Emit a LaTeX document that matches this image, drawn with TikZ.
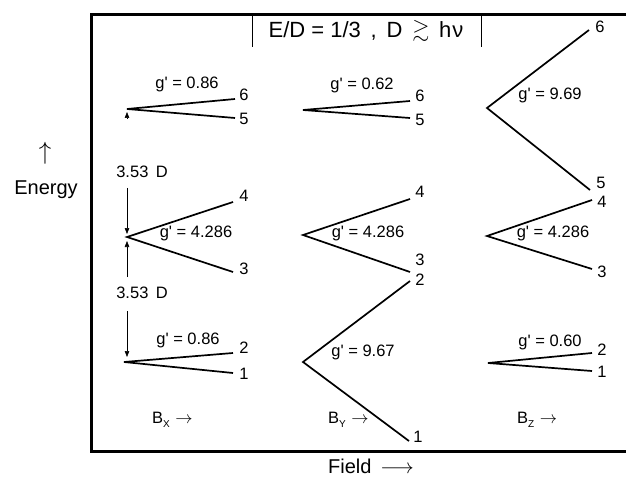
\documentclass[tikz,border=0pt]{standalone}
\usepackage{fontspec}
\usepackage{amssymb}
\setmainfont{Liberation Sans}[Ligatures=TeXOff]
\usetikzlibrary{arrows.meta}
\begin{document}
\begin{tikzpicture}[x=1pt,y=-1pt,
  lvl/.style={line width=1.7pt},
  lab/.style={font=\fontsize{16.5}{16.5}\selectfont, inner sep=0pt},
  num/.style={font=\fontsize{16.5}{16.5}\selectfont, inner sep=0pt},
  axislab/.style={font=\fontsize{20}{20}\selectfont, inner sep=0pt},
  dimarrow/.style={line width=0.6pt, -{Triangle[length=6pt,width=4.5pt]}},
  frameline/.style={line width=3pt, line join=miter},
  titlebar/.style={line width=0.8pt}]
\useasboundingbox (0,0) rectangle (626,481);
% frame
\coordinate (fTR) at (626,15); \coordinate (fTL) at (91,15);
\coordinate (fBL) at (91,451); \coordinate (fBR) at (626,451);
\draw[frameline] (fTR) -- (fTL) -- (fBL) -- (fBR);
% title
\coordinate (tb1a) at (252,15); \coordinate (tb1b) at (252,47);
\coordinate (tb2a) at (481,15); \coordinate (tb2b) at (481,47);
\draw[titlebar] (tb1a) -- (tb1b);
\draw[titlebar] (tb2a) -- (tb2b);
\node[font=\fontsize{22}{22}\selectfont, inner sep=0pt] (title) at (366,31) {E/D = 1/3 \,,\, D \,\raisebox{1pt}{$\gtrsim$}\, h\kern1pt ν};
% axes labels
\node[font=\fontsize{28}{28}\selectfont, inner sep=0pt] (earrow) at (45,153) {$\uparrow$};
\node[axislab] (energy) at (46,190) {Energy};
\node[axislab] (field) at (371,466) {Field \,$\longrightarrow$};
% ---------- column Bx ----------
\coordinate (a6v) at (127,109); \coordinate (a6) at (235,99); \coordinate (a5) at (235,118);
\draw[lvl] (a6) -- (a6v) -- (a5);
\node[num] (na6) at (244,95) {6};
\node[num] (na5) at (244,119) {5};
\node[lab] (ga3) at (187,84) {g' = 0.86};
\coordinate (a4v) at (127,237); \coordinate (a4) at (233,202); \coordinate (a3) at (233,272);
\draw[lvl] (a4) -- (a4v) -- (a3);
\node[num] (na4) at (244,196) {4};
\node[num] (na3) at (244,269) {3};
\node[lab] (ga2) at (196,233) {g' = 4.286};
\coordinate (a2v) at (124,362); \coordinate (a2) at (233,353); \coordinate (a1) at (233,373);
\draw[lvl] (a2) -- (a2v) -- (a1);
\node[num] (na2) at (244,348) {2};
\node[num] (na1) at (244,374) {1};
\node[lab] (ga1) at (188,340) {g' = 0.86};
% dimension arrows
\node[lab] (dU) at (142,172) {3.53\, D};
\node[lab] (dL) at (142,293) {3.53\, D};
\coordinate (d0s) at (127,118); \coordinate (d0e) at (127,112);
\draw[dimarrow] (d0s) -- (d0e);
\coordinate (d1s) at (127,188); \coordinate (d1e) at (127,234);
\draw[dimarrow] (d1s) -- (d1e);
\coordinate (d2s) at (127,277); \coordinate (d2e) at (127,241);
\draw[dimarrow] (d2s) -- (d2e);
\coordinate (d3s) at (127,311); \coordinate (d3e) at (127,357);
\draw[dimarrow] (d3s) -- (d3e);
\node[lab, anchor=west] (bx) at (152,420) {B\raisebox{-4pt}{\fontsize{10}{10}\selectfont X}\,\,$\rightarrow$};
% ---------- column By ----------
\coordinate (b6v) at (303,110); \coordinate (b6) at (410,101); \coordinate (b5) at (410,118);
\draw[lvl] (b6) -- (b6v) -- (b5);
\node[num] (nb6) at (420,96) {6};
\node[num] (nb5) at (420,120) {5};
\node[lab] (gb3) at (362,85) {g' = 0.62};
\coordinate (b4v) at (303,235); \coordinate (b4) at (410,199); \coordinate (b3) at (410,272);
\draw[lvl] (b4) -- (b4v) -- (b3);
\node[num] (nb4) at (420,192) {4};
\node[num] (nb3) at (420,260) {3};
\node[lab] (gb2) at (368,233) {g' = 4.286};
\coordinate (b2v) at (303,362); \coordinate (b2) at (410,281); \coordinate (b1) at (409,441);
\draw[lvl] (b2) -- (b2v) -- (b1);
\node[num] (nb2) at (420,280) {2};
\node[num] (nb1) at (418,437) {1};
\node[lab] (gb1) at (363,352) {g' = 9.67};
\node[lab, anchor=west] (by) at (328,420) {B\raisebox{-4pt}{\fontsize{10}{10}\selectfont Y}\,\,$\rightarrow$};
% ---------- column Bz ----------
\coordinate (c6v) at (487,108); \coordinate (c6) at (589,30); \coordinate (c5) at (590,190);
\draw[lvl] (c6) -- (c6v) -- (c5);
\node[num] (nc6) at (600,27) {6};
\node[num] (nc5) at (601,183) {5};
\node[lab] (gc3) at (550,95) {g' = 9.69};
\coordinate (c4v) at (487,236); \coordinate (c4) at (592,200); \coordinate (c3) at (592,269);
\draw[lvl] (c4) -- (c4v) -- (c3);
\node[num] (nc4) at (602,202) {4};
\node[num] (nc3) at (602,272) {3};
\node[lab] (gc2) at (553,233) {g' = 4.286};
\coordinate (c2v) at (488,363); \coordinate (c2) at (592,353); \coordinate (c1) at (592,371);
\draw[lvl] (c2) -- (c2v) -- (c1);
\node[num] (nc2) at (602,350) {2};
\node[num] (nc1) at (602,372) {1};
\node[lab] (gc1) at (550,342) {g' = 0.60};
\node[lab, anchor=west] (bz) at (517,420) {B\raisebox{-4pt}{\fontsize{10}{10}\selectfont Z}\,\,$\rightarrow$};
\end{tikzpicture}
\end{document}
